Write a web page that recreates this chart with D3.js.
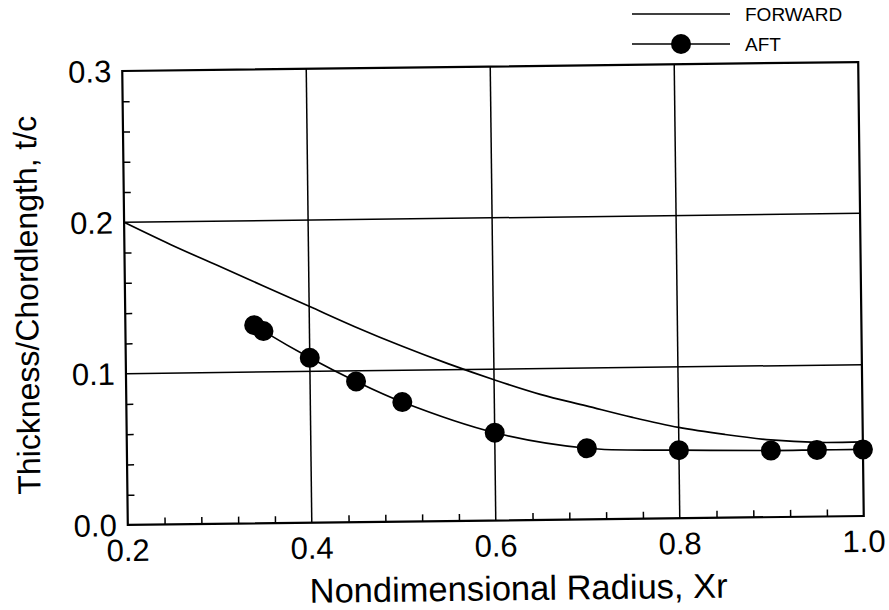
<!DOCTYPE html>
<html>
<head>
<meta charset="utf-8">
<script src="https://cdn.jsdelivr.net/npm/d3@7"></script>
<style>
  body { margin: 0; background: #fff; }
  text { font-family: "Liberation Sans", Arial, Helvetica, sans-serif; fill: #000; }
</style>
</head>
<body>
<div id="chart"></div>
<script>
// Forward blade thickness curve (x = radius, y = t/c)
var forwardX = [0.20, 0.25, 0.30, 0.35, 0.40, 0.45, 0.50, 0.55, 0.60, 0.65, 0.70, 0.75, 0.80, 0.85, 0.90, 0.95, 1.00];
var forwardY = [0.200, 0.185, 0.171, 0.157, 0.143, 0.129, 0.116, 0.104, 0.093, 0.083, 0.075, 0.067, 0.060, 0.055, 0.051, 0.049, 0.049];

// Aft blade points
var aftX = [0.34, 0.35, 0.40, 0.45, 0.50, 0.60, 0.70, 0.80, 0.90, 0.95, 1.00];
var aftY = [0.131, 0.127, 0.109, 0.093, 0.079, 0.058, 0.047, 0.045, 0.044, 0.044, 0.044];

var xTicks = [0.2, 0.4, 0.6, 0.8, 1.0];
var yTicks = [0.0, 0.1, 0.2, 0.3];
var seriesNames = ["FORWARD", "AFT"];

function drawChart() {
    var svgWidth = 889, svgHeight = 610;
    var margin = { top: 66.5, right: 28, bottom: 89.5, left: 125 };
    var width = svgWidth - margin.left - margin.right,
        height = svgHeight - margin.top - margin.bottom;

    var svg = d3.select("#chart").append("svg")
        .attr("width", svgWidth)
        .attr("height", svgHeight);

    var x = d3.scaleLinear().domain([0.2, 1.0]).range([0, width]);
    var y = d3.scaleLinear().domain([0, 0.3]).range([height, 0]);

    // the scanned page is slightly tilted
    var cx = margin.left + width / 2, cy = margin.top + height / 2;
    var page = svg.append("g")
        .attr("transform", "rotate(-0.7," + cx + "," + cy + ")");

    var g = page.append("g")
        .attr("transform", "translate(" + margin.left + "," + margin.top + ")");

    // grid lines
    g.selectAll(".vgrid")
        .data(xTicks.slice(1, -1))
        .enter().append("line")
        .attr("x1", d => x(d)).attr("x2", d => x(d))
        .attr("y1", 0).attr("y2", height)
        .attr("stroke", "#000").attr("stroke-width", 1.5);

    g.selectAll(".hgrid")
        .data(yTicks.slice(1, -1))
        .enter().append("line")
        .attr("x1", 0).attr("x2", width)
        .attr("y1", d => y(d)).attr("y2", d => y(d))
        .attr("stroke", "#000").attr("stroke-width", 1.5);

    // minor ticks pointing inward
    var xMinor = d3.range(0.24, 1.0, 0.04).filter(v => Math.abs(v * 5 - Math.round(v * 5)) > 0.01);
    var yMinor = d3.range(0.02, 0.3, 0.02).filter(v => Math.abs(v * 10 - Math.round(v * 10)) > 0.01);

    g.append("g")
        .attr("transform", "translate(0," + height + ")")
        .call(d3.axisBottom(x).tickValues(xMinor).tickSize(-7).tickFormat(""))
        .call(a => a.select(".domain").remove())
        .selectAll("line").attr("stroke-width", 1.5);

    g.append("g")
        .call(d3.axisLeft(y).tickValues(yMinor).tickSize(-7).tickFormat(""))
        .call(a => a.select(".domain").remove())
        .selectAll("line").attr("stroke-width", 1.5);

    // frame
    g.append("rect")
        .attr("width", width).attr("height", height)
        .attr("fill", "none").attr("stroke", "#000").attr("stroke-width", 2.2);

    // tick labels
    g.selectAll(".xlab")
        .data(xTicks)
        .enter().append("text")
        .attr("x", d => x(d))
        .attr("y", height + 36)
        .attr("text-anchor", "middle")
        .style("font-size", "31px")
        .text(d => d.toFixed(1));

    g.selectAll(".ylab")
        .data(yTicks)
        .enter().append("text")
        .attr("x", -11)
        .attr("y", d => y(d) + 11)
        .attr("text-anchor", "end")
        .style("font-size", "31px")
        .text(d => d.toFixed(1));

    // axis titles
    g.append("text")
        .attr("x", width / 2 + 22)
        .attr("y", height + 80)
        .attr("text-anchor", "middle")
        .style("font-size", "34.5px")
        .text("Nondimensional Radius, Xr");

    g.append("text")
        .attr("transform", "translate(-87," + (height / 2 + 6) + ") rotate(-90)")
        .attr("text-anchor", "middle")
        .style("font-size", "32px")
        .text("Thickness/Chordlength, t/c");

    // data
    var forward = forwardX.map((v, i) => ({ x: v, y: forwardY[i] }));
    var aft = aftX.map((v, i) => ({ x: v, y: aftY[i] }));

    var line = d3.line()
        .x(d => x(d.x))
        .y(d => y(d.y))
        .curve(d3.curveCatmullRom.alpha(0.5));

    g.append("path")
        .datum(forward)
        .attr("d", line)
        .attr("fill", "none").attr("stroke", "#000").attr("stroke-width", 1.7);

    g.append("path")
        .datum(aft)
        .attr("d", line)
        .attr("fill", "none").attr("stroke", "#000").attr("stroke-width", 1.7);

    g.selectAll(".dot")
        .data(aft)
        .enter().append("circle")
        .attr("cx", d => x(d.x))
        .attr("cy", d => y(d.y))
        .attr("r", 10)
        .attr("fill", "#000");

    // legend
    var legend = svg.append("g");
    seriesNames.forEach(function (name, i) {
        var ly = 14 + i * 30;
        legend.append("line")
            .attr("x1", 632).attr("x2", 730)
            .attr("y1", ly).attr("y2", ly)
            .attr("stroke", "#000").attr("stroke-width", 1.6);
        if (name === "AFT") {
            legend.append("circle")
                .attr("cx", 681).attr("cy", ly).attr("r", 10).attr("fill", "#000");
        }
        legend.append("text")
            .attr("x", 745).attr("y", ly + 7)
            .style("font-size", "19px")
            .text(name);
    });
}

drawChart();
</script>
</body>
</html>
